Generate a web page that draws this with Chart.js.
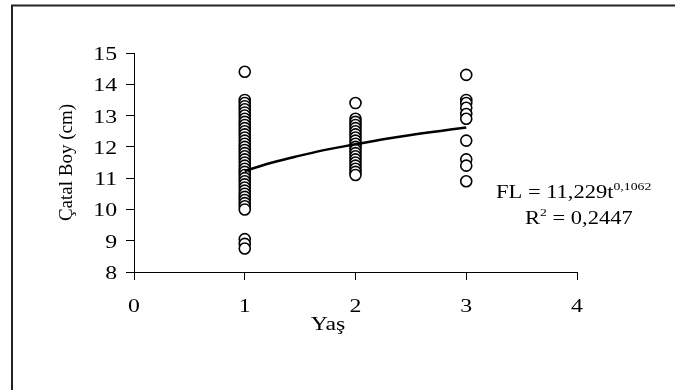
<!DOCTYPE html>
<html>
<head>
<meta charset="utf-8">
<script src="https://cdn.jsdelivr.net/npm/chart.js@4.4.1/dist/chart.umd.min.js"></script>
<style>
  html, body { margin: 0; padding: 0; background: #fff; }
  #wrap { width: 675px; height: 390px; position: relative; }
</style>
</head>
<body>
<div id="wrap"><canvas id="canvas" width="675" height="390"></canvas></div>
<script>
/* datos */

const yas1 = [14.4, 13.5, 13.4, 13.3, 13.2, 13.1, 13.0, 12.9, 12.8, 12.7, 12.6, 12.5, 12.4, 12.3,
    12.2, 12.1, 12.0, 11.9, 11.8, 11.7, 11.6, 11.5, 11.4, 11.3, 11.2, 11.1, 11.0, 10.9, 10.8,
    10.7, 10.6, 10.5, 10.4, 10.3, 10.2, 10.1, 10.0, 9.05, 8.9, 8.75];
const yas2 = [13.4, 12.9, 12.8, 12.7, 12.6, 12.5, 12.4, 12.3, 12.2, 12.1, 12.0, 11.9, 11.8,
    11.7, 11.6, 11.5, 11.4, 11.3, 11.2, 11.1];
const yas3 = [14.3, 13.5, 13.4, 13.25, 13.05, 12.9, 12.2, 11.6, 11.4, 10.9];

// linea de tendencia
const trendX = [1, 1.25, 1.5, 1.75, 2, 2.25, 2.5, 2.75, 3];
const trendY = [11.23, 11.5, 11.72, 11.92, 12.08, 12.24, 12.38, 12.5, 12.62];

const xTicks = [0, 1, 2, 3, 4];
const yTicks = [8, 9, 10, 11, 12, 13, 14, 15];

const xTitle = 'Yaş';
const yTitle = 'Çatal Boy (cm)';
const eqText = 'FL = 11,229t';
const eqExp = '0,1062';
const r2Text = '0,2447';

/* grafica */

const serif = '"Liberation Serif", "Times New Roman", serif';
const ancho = 1.25; // el original esta estirado a lo ancho

function puntos(x, ys) {
    return ys.map(function (v) { return { x: x, y: v }; });
}

var scatterPts = puntos(1, yas1).concat(puntos(2, yas2)).concat(puntos(3, yas3));
var trendPts = trendX.map(function (x, i) { return { x: x, y: trendY[i] }; });

// texto estirado en horizontal
function texto(c, s, x, y, align, size) {
    c.save();
    c.font = size + 'px ' + serif;
    c.textAlign = align;
    c.translate(x, y);
    c.scale(ancho, 1);
    c.fillText(s, 0, 0);
    var w = c.measureText(s).width * ancho;
    c.restore();
    return w;
}

var textos = {
    id: 'textos',
    beforeDraw: function (chart) {
        const c = chart.ctx;
        c.save();
        c.fillStyle = '#fff';
        c.fillRect(0, 0, chart.width, chart.height);
        c.restore();
    },
    afterDraw: function (chart) {
        const c = chart.ctx;
        const a = chart.chartArea;
        const sx = chart.scales.x;
        const sy = chart.scales.y;
        c.save();
        // marco
        c.strokeStyle = '#222';
        c.lineWidth = 2;
        c.beginPath();
        c.moveTo(12, 390);
        c.lineTo(12, 5.5);
        c.lineTo(675, 5.5);
        c.stroke();

        c.fillStyle = '#000';
        c.textBaseline = 'alphabetic';

        // etiquetas de los ejes
        xTicks.forEach(function (v) {
            texto(c, String(v), sx.getPixelForValue(v), 312, 'center', 19);
        });
        yTicks.forEach(function (v) {
            texto(c, String(v), 117, sy.getPixelForValue(v) + 7, 'right', 19);
        });

        texto(c, xTitle, 328, 330, 'center', 19);

        c.save();
        c.font = '19px ' + serif;
        c.textAlign = 'center';
        c.translate(72, (a.top + a.bottom) / 2);
        c.rotate(-Math.PI / 2);
        c.fillText(yTitle, 0, 0);
        c.restore();

        // ecuacion
        var x0 = 496;
        var w1 = texto(c, eqText, x0, 198, 'left', 18);
        texto(c, eqExp, x0 + w1, 190, 'left', 11);

        var x1 = 525;
        var wR = texto(c, 'R', x1, 224, 'left', 18);
        var w2 = texto(c, '2', x1 + wR, 216, 'left', 11);
        texto(c, ' = ' + r2Text, x1 + wR + w2, 224, 'left', 18);
        c.restore();
    }
};

var data = {
    datasets: [{
        type: 'line',
        label: 'tendencia',
        data: trendPts,
        borderColor: '#000',
        borderWidth: 2.5,
        pointRadius: 0,
        tension: 0.4,
        fill: false,
        order: 0
    }, {
        type: 'scatter',
        label: 'FL',
        data: scatterPts,
        pointStyle: 'circle',
        pointRadius: 5.5,
        pointBorderWidth: 1.6,
        pointBorderColor: '#000',
        pointBackgroundColor: '#fff',
        order: 1
    }]
};

var options = {
    responsive: false,
    animation: false,
    layout: { padding: { left: 0, right: 98, top: 53, bottom: 0 } },
    plugins: {
        legend: { display: false },
        tooltip: { enabled: false }
    },
    scales: {
        x: {
            type: 'linear',
            min: 0,
            max: 4,
            afterFit: function (s) { s.height = 118; },
            afterBuildTicks: function (s) { s.ticks = xTicks.map(function (v) { return { value: v }; }); },
            grid: { drawOnChartArea: false, tickLength: 8, tickColor: '#000', tickWidth: 1 },
            border: { color: '#000', width: 1 },
            ticks: { display: false }
        },
        y: {
            type: 'linear',
            min: 8,
            max: 15,
            afterFit: function (s) { s.width = 134; },
            afterBuildTicks: function (s) { s.ticks = yTicks.map(function (v) { return { value: v }; }); },
            grid: { drawOnChartArea: false, tickLength: 8, tickColor: '#000', tickWidth: 1 },
            border: { color: '#000', width: 1 },
            ticks: { display: false }
        }
    }
};

var chart1 = new Chart(document.getElementById('canvas'), {
    type: 'scatter',
    data: data,
    options: options,
    plugins: [textos]
});
</script>
</body>
</html>
